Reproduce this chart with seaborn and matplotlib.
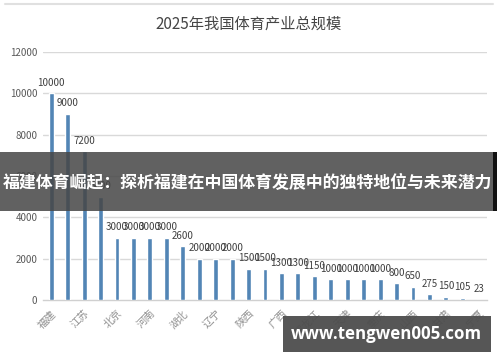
import matplotlib
matplotlib.use("Agg")
import matplotlib.pyplot as plt
import seaborn as sns
import pandas as pd
from matplotlib.patches import Rectangle
from matplotlib.lines import Line2D

title = "2025年我国体育产业总规模"
provinces = ["福建", "广东", "江苏", "浙江", "北京", "山东", "河南", "上海", "湖北",
             "四川", "辽宁", "湖南", "陕西", "安徽", "广西", "河北", "黑龙江", "江西",
             "天津", "云南", "重庆", "贵州", "山西", "吉林", "甘肃", "内蒙古", "宁夏"]
values = [10000, 9000, 7200, 5000, 3000, 3000, 3000, 3000, 2600, 2000, 2000, 2000,
          1500, 1500, 1300, 1300, 1150, 1000, 1000, 1000, 1000, 800, 650, 275, 150, 105, 23]
shown_labels = [p if i % 2 == 0 else "" for i, p in enumerate(provinces)]
yticks = [0, 2000, 4000, 6000, 8000, 10000, 12000]
banner_text = "福建体育崛起：探析福建在中国体育发展中的独特地位与未来潜力"
watermark = "www.tengwen005.com"

sns.set_theme(style="white")
plt.rcParams['font.family'] = ['Noto Sans CJK SC', 'DejaVu Sans']

df = pd.DataFrame({"province": provinces, "value": values})

fig = plt.figure(figsize=(5, 3.62), dpi=100)
ax = fig.add_axes([0.086, 0.1713, 0.888, 0.6851])
sns.barplot(data=df, x="province", y="value", color="#5285b5", width=0.3,
            saturation=1, ax=ax, zorder=3)

ax.set_ylim(0, 12000)
ax.set_xlim(-0.5, len(provinces) - 0.5)
ax.set_yticks(yticks)
ax.set_yticklabels([str(t) for t in yticks], fontsize=7, color="#595959")
ax.set_xticks(range(len(provinces)))
ax.set_xticklabels(shown_labels, rotation=45, ha="right", rotation_mode="anchor",
                   fontsize=7.5, color="#909090")
ax.tick_params(axis="x", length=0, pad=6)
ax.tick_params(axis="y", length=0, pad=4)
ax.set_xlabel("")
ax.set_ylabel("")
for t in yticks[1:]:
    ax.axhline(t, color="#d9d9d9", lw=1, zorder=1)
for s in ["top", "right", "left"]:
    ax.spines[s].set_visible(False)
ax.spines["bottom"].set_color("#d0d0d0")
ax.spines["bottom"].set_linewidth(1)

ax.bar_label(ax.containers[0], labels=[str(v) for v in values], padding=4,
             fontsize=7, color="#404040")

fig.text(0.497, 0.933, title, ha="center", va="center", fontsize=11, color="#454545")

# top border line
fig.add_artist(Line2D([0.01, 0.986], [0.99, 0.99], color="#e0e0e0", lw=1.5,
                      transform=fig.transFigure))

# banner overlay
fig.add_artist(Rectangle((0, 0.417), 0.986, 0.163, transform=fig.transFigure,
                         facecolor="#474747", alpha=0.86, edgecolor="none", zorder=10))
fig.add_artist(Rectangle((0.986, 0.417), 0.008, 0.163, transform=fig.transFigure,
                         facecolor="#111111", edgecolor="none", zorder=10))
fig.text(0.495, 0.495, banner_text, ha="center", va="center", fontsize=12.2,
         color="white", fontweight="bold", zorder=11)

# watermark box
fig.add_artist(Rectangle((0.566, 0.0276), 0.416, 0.0994, transform=fig.transFigure,
                         facecolor="#4d4d4d", alpha=0.95, edgecolor="none", zorder=10))
fig.text(0.772, 0.077, watermark, ha="center", va="center", fontsize=12.2,
         color="white", fontweight="bold", family=["Open Sans", "DejaVu Sans"], zorder=11)

fig.savefig("out.png", dpi=100)
